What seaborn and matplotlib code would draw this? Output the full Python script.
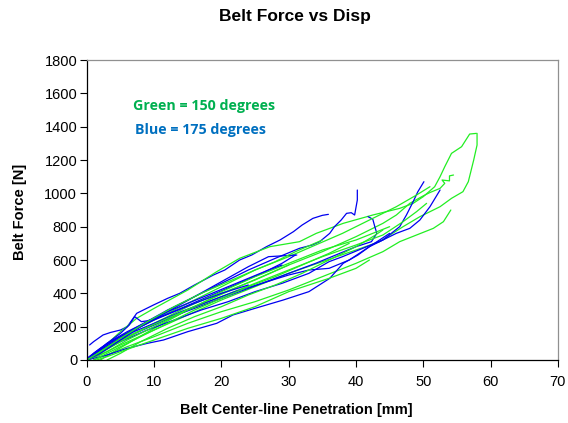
import pandas as pd
import matplotlib.pyplot as plt
import seaborn as sns

sns.set_theme(style="white")
plt.rcParams['font.family'] = ['Liberation Sans', 'DejaVu Sans']
plt.rcParams['text.color'] = 'black'
plt.rcParams['axes.labelcolor'] = 'black'
plt.rcParams['xtick.color'] = 'black'
plt.rcParams['ytick.color'] = 'black'

# 175 degree runs (blue)
b1_x = [0.4, 1.0, 2.4, 3.5, 5.0, 6.0, 7.4, 9.9, 12.0, 13.8, 16.0, 18.8, 20.5, 22.7, 24.5, 26.7, 28.7, 30.7, 32.0, 33.6, 35.0, 35.9]
b1_y = [90, 110, 150, 165, 180, 200, 280, 330, 370, 400, 450, 510, 540, 600, 630, 680, 720, 770, 810, 850, 868, 874]
b2_x = [0, 1, 2.5, 5, 8, 12, 16, 20, 24, 28, 31.6, 33.5, 34.6, 36.1, 36.8, 37.8, 38.6, 39.3, 39.8, 40.2, 40.2]
b2_y = [0, 30, 80, 140, 210, 300, 380, 460, 540, 610, 670, 690, 710, 760, 800, 840, 880, 884, 870, 960, 1020]
b3_x = [0, 1.5, 3, 6, 10, 14, 18, 22, 26, 30, 34, 37, 40, 42.3, 43.1, 42.8, 42.5, 41.8]
b3_y = [0, 40, 80, 140, 210, 280, 340, 400, 460, 520, 580, 630, 680, 710, 760, 800, 845, 860]
b4_x = [0, 2, 5, 9, 13, 17, 21, 25, 29, 33, 36, 38, 41, 44, 46.5, 47.5, 48.5, 49.2, 50.1]
b4_y = [0, 50, 110, 180, 240, 300, 350, 410, 460, 520, 590, 620, 670, 720, 800, 870, 950, 1010, 1070]
b5_x = [0, 3, 6, 9, 11.4, 15, 19.3, 21.7, 25, 29.2, 33, 36.1, 38.1, 40.3, 42, 44, 46, 48, 49.5, 51, 52.5]
b5_y = [0, 30, 70, 100, 120, 170, 220, 270, 310, 360, 410, 490, 580, 630, 680, 720, 760, 790, 840, 920, 1020]
b6_x = [0, 1.5, 3, 5, 6.3, 7.1, 8.1, 9, 11, 14, 18, 22, 26, 29, 31]
b6_y = [0, 50, 100, 160, 210, 260, 230, 235, 260, 310, 380, 450, 520, 580, 630]
b7_x = [0, 2, 4, 7, 10, 14, 18, 22, 26, 30, 33, 36, 39, 42, 45]
b7_y = [0, 60, 110, 170, 220, 290, 350, 410, 460, 510, 540, 550, 600, 680, 760]
b8_x = [0, 1, 3, 6, 9, 12, 15, 18, 21, 24, 27, 29]
b8_y = [0, 40, 100, 170, 230, 290, 340, 390, 440, 490, 540, 570]
b9_x = [0, 2, 4, 7, 10, 13, 16, 20, 24]
b9_y = [10, 70, 120, 180, 240, 290, 340, 400, 450]
b10_x = [0, 2, 5, 8, 12, 16, 20, 24, 27, 31.2]
b10_y = [0, 40, 120, 200, 290, 380, 470, 560, 620, 630]

# 150 degree runs (green)
g1_x = [0, 2, 5, 10, 15, 20, 25, 30, 35, 40, 43.5, 47, 49.5, 52.5, 54.2, 55.9, 56.7, 57.5, 58.0, 58.0]
g1_y = [0, 30, 90, 180, 270, 360, 440, 520, 590, 660, 710, 800, 860, 920, 970, 1010, 1070, 1200, 1290, 1360]
g2_x = [0, 2, 5, 7.4, 10, 15, 19.3, 22.7, 27.2, 31.6, 34.1, 38.1, 42.5, 46.5, 48.5, 50.0, 51.7, 52.5, 53.2, 54.2, 55.7, 56.9, 57.9]
g2_y = [0, 60, 170, 250, 310, 420, 530, 610, 680, 710, 760, 820, 870, 910, 940, 980, 1040, 1100, 1160, 1240, 1280, 1356, 1360]
g3_x = [2, 4, 7, 10, 15, 20, 25, 30, 35, 40, 44, 46, 48, 50, 51, 52.5, 53.2, 52.8, 53.9, 53.9, 54.5]
g3_y = [0, 50, 120, 190, 300, 400, 480, 570, 650, 740, 820, 870, 940, 985, 1005, 1030, 1060, 1080, 1075, 1105, 1110]
g4_x = [1, 3, 6, 10, 15, 20, 25, 30, 35, 40, 44, 46.5, 49, 51.5, 53, 54.1]
g4_y = [0, 30, 80, 140, 220, 290, 350, 420, 500, 580, 650, 710, 750, 790, 830, 900]
g5_x = [0, 3, 6, 10, 15, 20, 25, 30, 34, 38, 42, 46, 49, 51]
g5_y = [0, 80, 160, 240, 340, 440, 540, 620, 690, 760, 840, 920, 990, 1040]
g6_x = [0, 3, 6, 10, 15, 20, 25, 30, 35, 40, 44, 47, 49, 50.5]
g6_y = [0, 50, 120, 200, 300, 380, 460, 540, 620, 690, 750, 830, 890, 940]
g7_x = [0, 2, 5, 10, 15, 20, 25, 30, 35, 40, 45]
g7_y = [0, 40, 110, 220, 320, 410, 500, 580, 660, 720, 800]
g8_x = [3, 5, 8, 12, 16, 20, 24, 28, 32, 36, 40, 42.5, 44]
g8_y = [0, 40, 110, 190, 260, 320, 390, 450, 520, 600, 680, 740, 780]
g9_x = [0, 3, 7, 12, 17, 22, 26, 30]
g9_y = [0, 70, 160, 250, 340, 430, 500, 570]
g10_x = [1.5, 3, 5, 10, 15, 20, 25, 30, 33, 36, 40, 42]
g10_y = [0, 20, 50, 120, 190, 250, 320, 410, 450, 490, 550, 600]
g11_x = [0, 2, 5, 9, 13, 17, 21, 25, 28, 31, 35]
g11_y = [0, 50, 130, 230, 320, 400, 470, 540, 590, 650, 720]
g12_x = [1, 4, 8, 12, 16, 20, 24, 28, 32, 36, 39]
g12_y = [0, 60, 140, 220, 300, 370, 440, 500, 570, 640, 700]

green_runs = [(g1_x, g1_y), (g2_x, g2_y), (g3_x, g3_y), (g4_x, g4_y), (g5_x, g5_y), (g6_x, g6_y),
              (g7_x, g7_y), (g8_x, g8_y), (g9_x, g9_y), (g10_x, g10_y), (g11_x, g11_y), (g12_x, g12_y)]
blue_runs = [(b1_x, b1_y), (b2_x, b2_y), (b3_x, b3_y), (b4_x, b4_y), (b5_x, b5_y),
             (b6_x, b6_y), (b7_x, b7_y), (b8_x, b8_y), (b9_x, b9_y), (b10_x, b10_y)]

fig = plt.figure(figsize=(5.68, 4.23), dpi=100)
ax = fig.add_axes([0.153, 0.149, 0.829, 0.709])

# interleave the runs so neither colour sits entirely on top
order = []
for i in range(max(len(green_runs), len(blue_runs))):
    if i < len(green_runs):
        order.append(('#22EE22', green_runs[i]))
    if i < len(blue_runs):
        order.append(('#0000F0', blue_runs[i]))

for col, (xs, ys) in order:
    df = pd.DataFrame({'disp': xs, 'force': ys})
    sns.lineplot(data=df, x='disp', y='force', sort=False, estimator=None,
                 color=col, lw=0.9, ax=ax)

ax.set_xlim(0, 70)
ax.set_ylim(0, 1800)
ax.set_xticks(range(0, 71, 10))
ax.set_yticks(range(0, 1801, 200))
ax.tick_params(axis='both', labelsize=10.5, length=5, width=0.8, direction='out',
               bottom=True, left=True, colors='black', pad=2)
ax.tick_params(axis='x', pad=6)
for s in ['left', 'bottom']:
    ax.spines[s].set_color('black')
    ax.spines[s].set_linewidth(0.9)
for s in ['top', 'right']:
    ax.spines[s].set_color('#909090')
    ax.spines[s].set_linewidth(0.9)
ax.set_xlabel('')
ax.set_ylabel('')

fig.text(0.52, 0.962, 'Belt Force vs Disp', ha='center', va='center',
         fontsize=12.5, fontweight='bold')
fig.text(0.521, 0.03, 'Belt Center-line Penetration [mm]', ha='center', va='center',
         fontsize=10.5, fontweight='bold')
fig.text(0.035, 0.50, 'Belt Force [N]', ha='center', va='center', rotation=90,
         fontsize=10.5, fontweight='bold')

ax.text(0.098, 0.847, 'Green = 150 degrees', transform=ax.transAxes, color='#00B050',
        fontsize=10.3, fontweight='bold', family=['Open Sans', 'DejaVu Sans'], va='center')
ax.text(0.102, 0.767, 'Blue = 175 degrees', transform=ax.transAxes, color='#0070C0',
        fontsize=10.3, fontweight='bold', family=['Open Sans', 'DejaVu Sans'], va='center')

fig.savefig('out.png', dpi=100, facecolor='white')
